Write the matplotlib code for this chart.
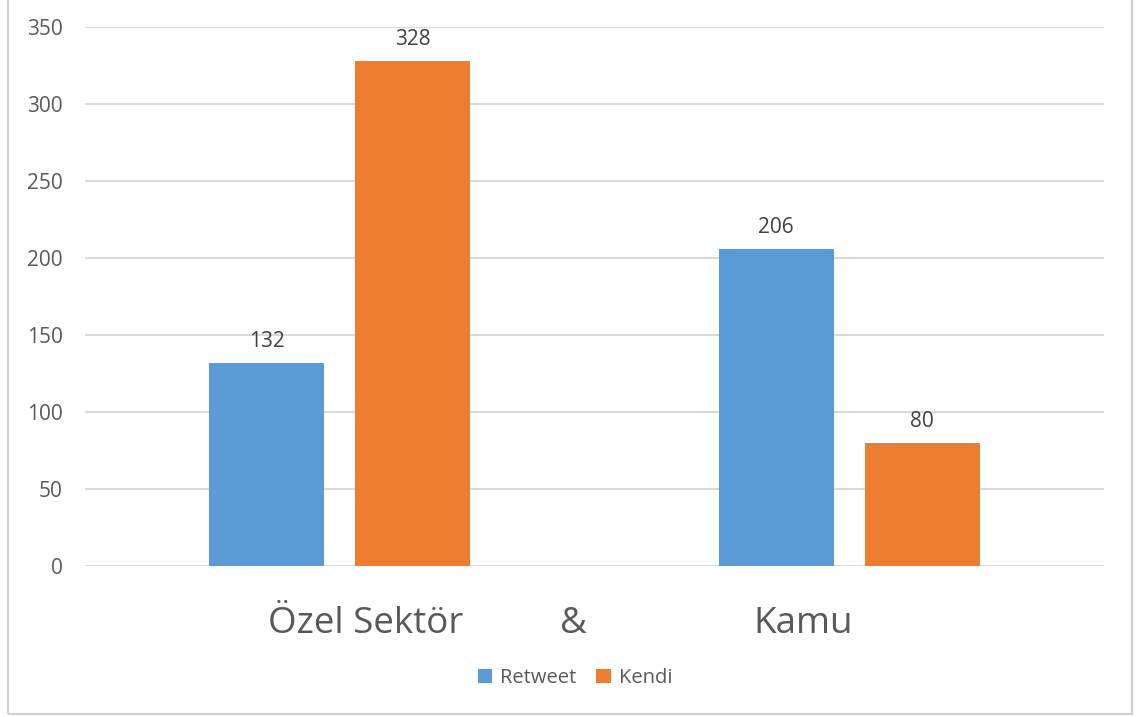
import numpy as np
import matplotlib.pyplot as plt
from matplotlib.patches import Rectangle

categories = ["Özel Sektör", "Kamu"]
retweet = [132, 206]
kendi = [328, 80]
series_names = ["Retweet", "Kendi"]
yticks = [0, 50, 100, 150, 200, 250, 300, 350]

BLUE = "#5B9BD5"
ORANGE = "#ED7D31"
TXT = "#595959"
GRID = "#D9D9D9"

plt.rcParams['font.family'] = ['Open Sans', 'DejaVu Sans']

W, H = 1138, 717
fig = plt.figure(figsize=(W / 100, H / 100), dpi=100)

# outer chart border (Excel style)
fig.patches.append(Rectangle((8 / W, 3 / H), 1124 / W, 1.0, transform=fig.transFigure,
                             fill=False, edgecolor="#D0D0D0", lw=1.5))

ax = fig.add_axes([85 / W, 1 - 566 / H, (1104 - 85) / W, (566 - 27) / H])

x = np.arange(len(categories))
bw = 0.2257
gap = 0.061
off = (bw + gap) / 2
b1 = ax.bar(x - off, retweet, bw, color=BLUE, label=series_names[0], zorder=3)
b2 = ax.bar(x + off, kendi, bw, color=ORANGE, label=series_names[1], zorder=3)

for bars in (b1, b2):
  for r in bars:
    ax.annotate(str(int(r.get_height())), (r.get_x() + r.get_width() / 2, r.get_height()),
                xytext=(0, 8), textcoords="offset points", ha="center", va="bottom",
                fontsize=15, color="#404040")

ax.set_xlim(-0.5, 1.5)
ax.set_ylim(0, 350)
ax.set_yticks(yticks)
ax.set_xticks([])
ax.tick_params(axis="y", length=0, pad=16, labelsize=15, labelcolor=TXT)
ax.grid(axis="y", color=GRID, lw=1.5, zorder=0)
for s in ax.spines.values():
  s.set_visible(False)

# category labels written as one line under the axis
fig.text(366 / W, 1 - 624 / H, categories[0], ha="center", va="center", fontsize=26.5, color=TXT)
fig.text(573 / W, 1 - 624 / H, "&", ha="center", va="center", fontsize=26.5, color=TXT)
fig.text(803 / W, 1 - 624 / H, categories[1], ha="center", va="center", fontsize=26.5, color=TXT)

fig.legend(loc="center", bbox_to_anchor=(575 / W, 1 - 678 / H), ncol=2, frameon=False,
           fontsize=14.5, labelcolor=TXT, handlelength=0.7, handleheight=0.7,
           handletextpad=0.4, columnspacing=1.0)

fig.savefig("out.png", dpi=100)
